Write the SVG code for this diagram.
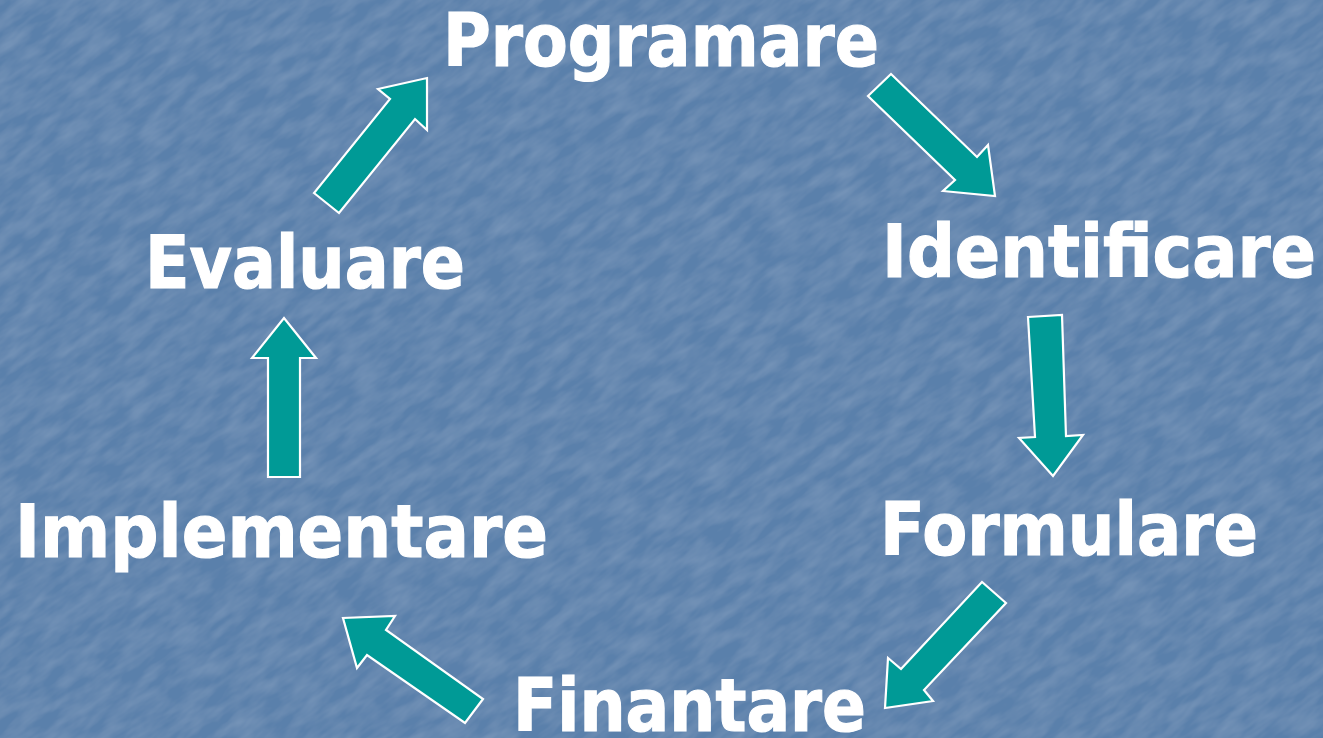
<svg xmlns="http://www.w3.org/2000/svg" width="1323" height="738" viewBox="0 0 1323 738">
<defs>
<filter id="tex" x="0" y="0" width="100%" height="100%">
<feTurbulence type="fractalNoise" baseFrequency="0.03 0.09" numOctaves="3" seed="7" result="n"/>
<feColorMatrix in="n" type="matrix" values="0 0 0 0 0.55  0 0 0 0 0.66  0 0 0 0 0.80  0 0 0 0.5 -0.15" result="c"/>
<feComposite in="c" in2="SourceGraphic" operator="over"/>
</filter>
<style>
.lbl{font-family:"DejaVu Sans","Verdana",sans-serif;font-weight:bold;font-size:73px;fill:#ffffff;stroke:#ffffff;stroke-width:1.2}
.arr{fill:#009a96;stroke:#ffffff;stroke-width:2.2;stroke-linejoin:miter}
</style>
</defs>
<rect x="0" y="0" width="1323" height="738" fill="#5a80ab"/>
<rect x="-450" y="-450" width="2223" height="1638" fill="#5a80ab" filter="url(#tex)" transform="rotate(-35 661 369)" opacity="0.6"/>
<g id="connectors">
<polygon class="arr" points="868,96 891,74 977,157 988,145 995,196 943,191 955,180"/>
<polygon class="arr" points="1028,317 1062,315 1066,436 1083,435 1053,476 1019,438 1035,437"/>
<polygon class="arr" points="1006,603 982,582 901,669 888,658 885,708 933,701 924,690"/>
<polygon class="arr" points="483,699 465,723 367,655 357,668 343,618 395,616 386,630"/>
<polygon class="arr" points="268,477 300,477 300,358 316,358 284,318 252,358 268,358"/>
<polygon class="arr" points="314,193 339,213 415,119 427,130 427,78 378,89 390,99"/>
</g>
<g id="node-programare"><text class="lbl" x="443" y="66" textLength="436" lengthAdjust="spacingAndGlyphs">Programare</text></g>
<g id="node-identificare"><text class="lbl" x="882" y="277" textLength="434" lengthAdjust="spacingAndGlyphs">Identificare</text></g>
<g id="node-formulare"><text class="lbl" x="880" y="555" textLength="378" lengthAdjust="spacingAndGlyphs">Formulare</text></g>
<g id="node-finantare"><text class="lbl" x="513" y="731" textLength="353" lengthAdjust="spacingAndGlyphs">Finantare</text></g>
<g id="node-implementare"><text class="lbl" x="15" y="557" textLength="533" lengthAdjust="spacingAndGlyphs">Implementare</text></g>
<g id="node-evaluare"><text class="lbl" x="145" y="288" textLength="320" lengthAdjust="spacingAndGlyphs">Evaluare</text></g>
</svg>
